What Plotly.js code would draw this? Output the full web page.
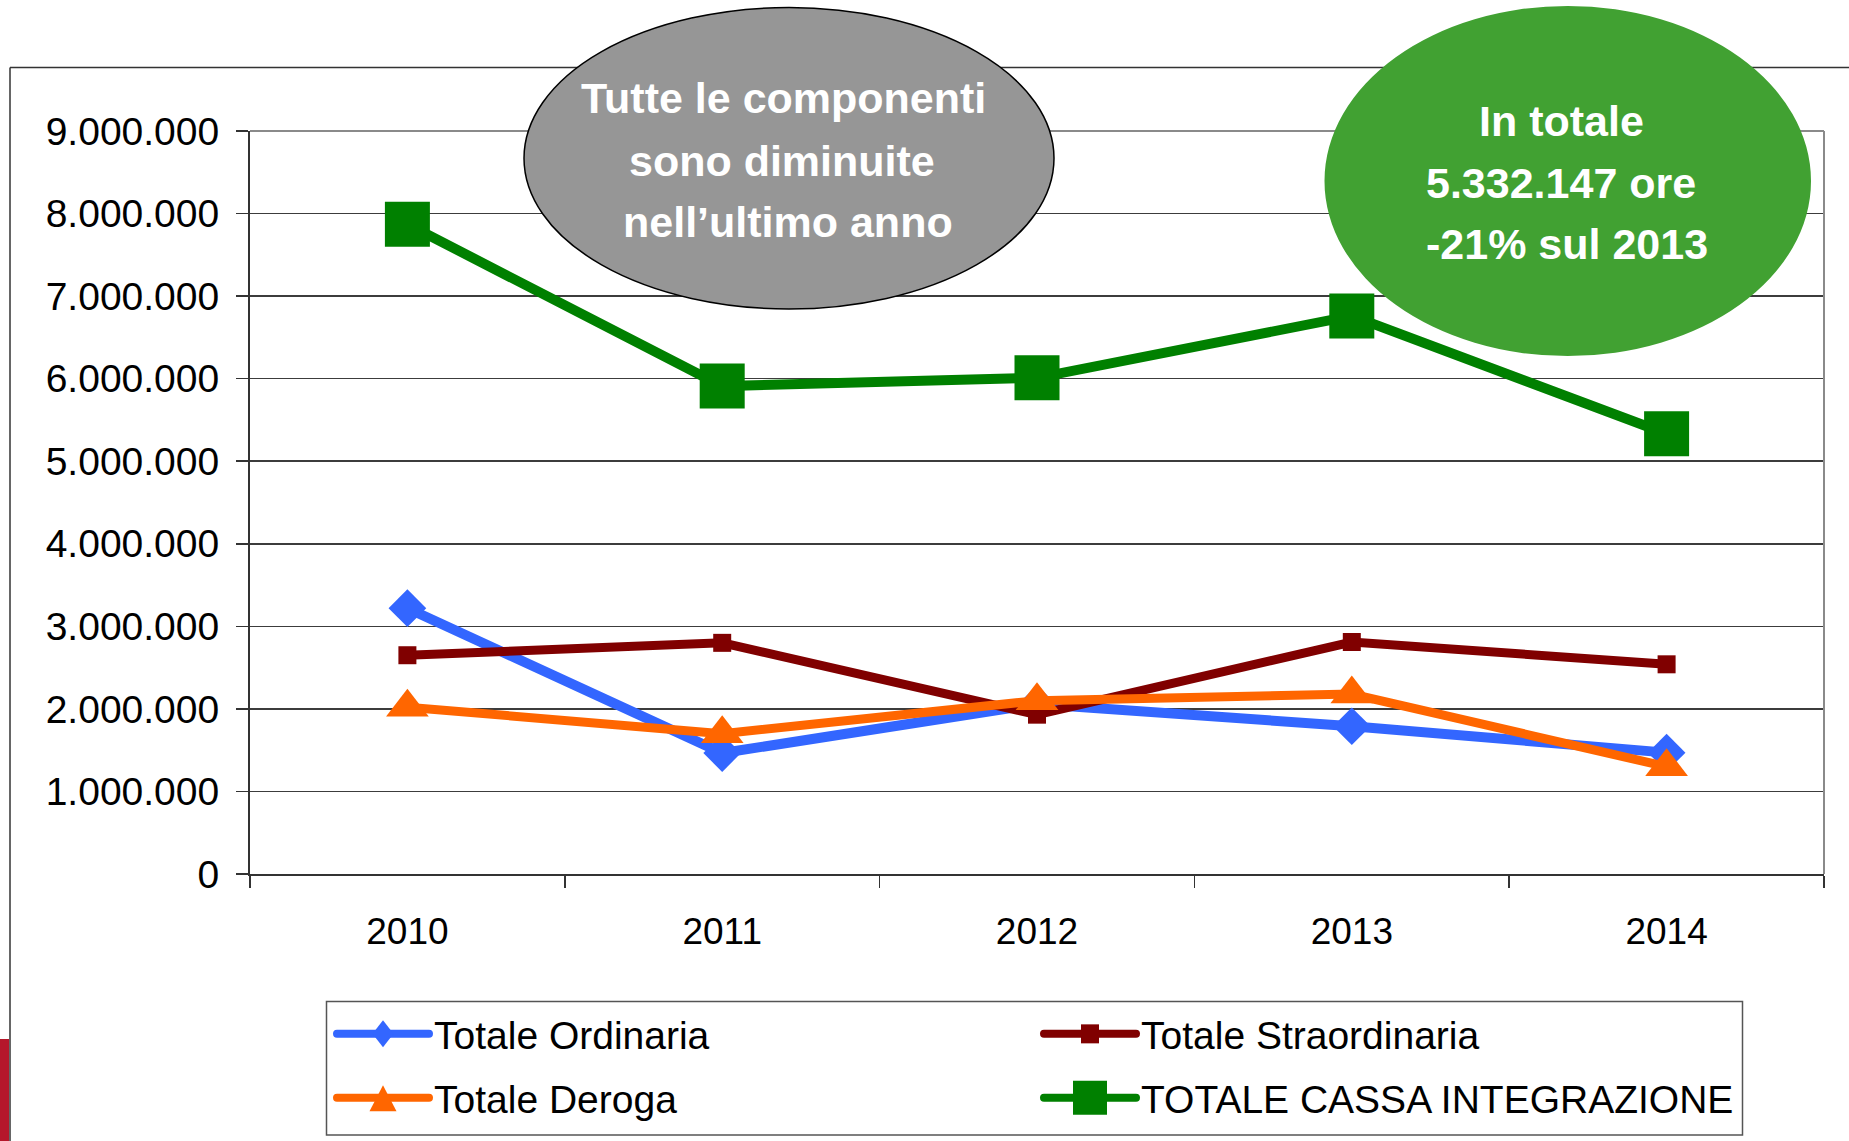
<!DOCTYPE html>
<html><head><meta charset="utf-8">
<script src="https://cdn.plot.ly/plotly-3.0.1.min.js"></script>
<style>html,body{margin:0;padding:0;background:#fff;overflow:hidden;} #chart{width:1849px;height:1141px;}</style>
</head><body><div id="chart"></div>
<script>
// ---- data ----
const years = ['2010', '2011', '2012', '2013', '2014'];
const ordinaria = [3220000, 1465000, 2060000, 1790000, 1470000];
const straordinaria = [2650000, 2800000, 1930000, 2810000, 2540000];
const deroga = [2020000, 1700000, 2100000, 2180000, 1300000];
const totaleCassa = [7870000, 5910000, 6010000, 6760000, 5332147];
const seriesNames = ['Totale Ordinaria', 'Totale Straordinaria', 'Totale Deroga', 'TOTALE CASSA INTEGRAZIONE'];
const yTickValues = [0, 1000000, 2000000, 3000000, 4000000, 5000000, 6000000, 7000000, 8000000, 9000000];
const bubbleGrey = ['Tutte le componenti', 'sono diminuite', 'nell\u2019ultimo anno'];
const bubbleGreen = ['In totale', '5.332.147 ore', '-21% sul 2013'];

// ---- layout geometry (pixels) ----
const W = 1849, H = 1141;
const L = 250, R = 1824, T = 131, B = 874;
const px = x => (x - L) / (R - L);
const py = y => (B - y) / (B - T);
const FONT = 'Liberation Sans, Arial, sans-serif';

function tr(name, y, color, symbol, size, width, legend) {
  return {
    type: 'scatter', mode: 'lines+markers', name: name, x: years, y: y,
    line: {color: color, width: width},
    marker: {symbol: symbol, size: size, color: color, line: {width: 0}},
    legend: legend, cliponaxis: false
  };
}
const data = [
  tr(seriesNames[0], ordinaria, '#3366FF', 'diamond', 29, 10, 'legend'),
  tr(seriesNames[1], straordinaria, '#800000', 'square', 18, 9, 'legend'),
  tr(seriesNames[2], deroga, '#FF6600', 'triangle-up', 37, 9, 'legend2'),
  tr(seriesNames[3], totaleCassa, '#008000', 'square', 45, 10, 'legend2')
];

const shapes = [
  // slide frame
  {type:'line', xref:'paper', yref:'paper', x0:px(10), x1:px(1860), y0:py(67.5), y1:py(67.5), line:{color:'#333', width:1.5}, layer:'above'},
  {type:'line', xref:'paper', yref:'paper', x0:px(10), x1:px(10), y0:py(67.5), y1:py(1150), line:{color:'#333', width:1.5}, layer:'above'},
  {type:'rect', xref:'paper', yref:'paper', x0:px(-5), x1:px(9), y0:py(1039), y1:py(1150), fillcolor:'#B5172B', line:{width:0}, layer:'above'},
  // plot area border (top / right)
  {type:'line', xref:'paper', yref:'paper', x0:0, x1:1, y0:1, y1:1, line:{color:'#8a8a8a', width:2}, layer:'above'},
  {type:'line', xref:'paper', yref:'paper', x0:1, x1:1, y0:0, y1:1, line:{color:'#8a8a8a', width:2}, layer:'above'},
  // legend box
  {type:'rect', xref:'paper', yref:'paper', x0:px(326.5), x1:px(1742.5), y0:py(1135), y1:py(1001.5), line:{color:'#555', width:1.5}, fillcolor:'rgba(0,0,0,0)', layer:'above'},
  // callouts
  {type:'circle', xref:'paper', yref:'paper', x0:px(524), x1:px(1054), y0:py(309), y1:py(7.5), fillcolor:'#969696', line:{color:'#000', width:1.5}, layer:'above'},
  {type:'circle', xref:'paper', yref:'paper', x0:px(1324.5), x1:px(1811), y0:py(356), y1:py(6), fillcolor:'#41A132', line:{width:0}, layer:'above'}
];

const annFont = {family: FONT, size: 43, color: '#ffffff', weight: 'bold'};
const annotations = [];
const greyY = [98, 160.5, 222], greyX = [783, 782, 788];
bubbleGrey.forEach((t, i) => annotations.push({xref:'paper', yref:'paper', x:px(greyX[i]), y:py(greyY[i]), text:t, showarrow:false, xanchor:'center', yanchor:'middle', font:annFont}));
const greenY = [121.5, 183, 244], greenX = [1561, 1561, 1566.5];
bubbleGreen.forEach((t, i) => annotations.push({xref:'paper', yref:'paper', x:px(greenX[i]), y:py(greenY[i]), text:t, showarrow:false, xanchor:'center', yanchor:'middle', font:annFont}));

const legendBase = {
  orientation: 'h', xanchor: 'left', yanchor: 'middle', x: px(332),
  entrywidth: 600, entrywidthmode: 'pixels', itemwidth: 92,
  font: {family: FONT, size: 39, color: '#000'},
  bgcolor: 'rgba(0,0,0,0)', borderwidth: 0, traceorder: 'normal'
};

const layout = {
  width: W, height: H,
  margin: {l: L, r: W - R, t: T, b: H - B, pad: 0, autoexpand: false},
  paper_bgcolor: '#ffffff', plot_bgcolor: '#ffffff',
  separators: ',.',
  showlegend: true,
  hovermode: false,
  font: {family: FONT, size: 38, color: '#000'},
  xaxis: {
    type: 'category', range: [-0.5, 4.5], tickson: 'boundaries',
    ticks: 'outside', ticklen: 12, tickwidth: 1.5, tickcolor: '#333',
    showline: true, linecolor: '#333', linewidth: 2, showgrid: false, zeroline: false,
    tickfont: {family: FONT, size: 37, color: '#000'}, ticklabelstandoff: 24, fixedrange: true
  },
  yaxis: {
    range: [0, 9000000], tickvals: yTickValues, tickformat: ',d',
    ticks: 'outside', ticklen: 12, tickwidth: 1.5, tickcolor: '#333',
    showline: true, linecolor: '#333', linewidth: 2,
    showgrid: true, gridcolor: '#3c3c3c', gridwidth: 1.5, zeroline: false,
    tickfont: {family: FONT, size: 39, color: '#000'}, ticklabelstandoff: 9, fixedrange: true
  },
  legend: Object.assign({}, legendBase, {y: py(1034)}),
  legend2: Object.assign({}, legendBase, {y: py(1098)}),
  shapes: shapes,
  annotations: annotations
};

// legend symbols in the reference are larger than Plotly's capped legend markers
const legendSymbolPaths = [
  'M10.5,0L0,13.5L-10.5,0L0,-13.5Z',
  'M9,9.5H-9V-9.5H9Z',
  'M-13.5,13.5H13.5L0,-12.5Z',
  'M17,17H-17V-17H17Z'
];

function fixLegend(gd) {
  gd.querySelectorAll('g.traces').forEach(function (item, idx) {
    const label = item.querySelector('text.legendtext');
    const txt = label ? label.textContent.trim() : '';
    let k = seriesNames.indexOf(txt);
    if (k < 0) k = idx;
    const p = legendSymbolPaths[k];
    item.querySelectorAll('path').forEach(function (pth) {
      const cls = pth.getAttribute('class') || '';
      const inLines = pth.closest('.legendlines');
      if (inLines || cls.indexOf('js-line') >= 0) {
        pth.style.strokeWidth = '8px';
        pth.style.strokeLinecap = 'round';
      } else if (p && (pth.closest('.legendpoints') || cls.indexOf('scatterpts') >= 0)) {
        pth.setAttribute('d', p);
      }
    });
  });
}

Plotly.newPlot('chart', data, layout, {displayModeBar: false, staticPlot: true}).then(function (gd) {
  fixLegend(gd);
  setTimeout(function () { fixLegend(gd); }, 150);
  setTimeout(function () { fixLegend(gd); }, 600);
});
</script>
</body></html>
